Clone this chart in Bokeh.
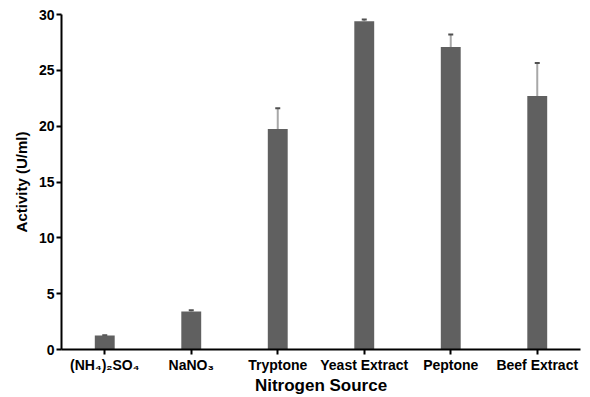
from bokeh.plotting import figure
from bokeh.models import ColumnDataSource, Whisker, TeeHead, FactorRange
from bokeh.embed import file_html
from bokeh.resources import INLINE

categories = ["(NH₄)₂SO₄", "NaNO₃", "Tryptone", "Yeast Extract", "Peptone", "Beef Extract"]
activity = [1.25, 3.4, 19.75, 29.4, 27.1, 22.7]
error = [0.03, 0.12, 1.85, 0.15, 1.1, 2.95]
y_ticks = [0, 5, 10, 15, 20, 25, 30]

upper = [a + e for a, e in zip(activity, error)]
src = ColumnDataSource(dict(cat=categories, act=activity, up=upper))

FONT = "Liberation Sans"

p = figure(x_range=FactorRange(*categories, range_padding=0), y_range=(0, 30),
           width=590, height=397, output_backend="svg", toolbar_location=None,
           min_border_left=61, min_border_right=10, min_border_top=14, min_border_bottom=45)

p.vbar(x="cat", top="act", width=0.23, source=src, color="#606060", line_color=None)

w = Whisker(source=src, base="cat", lower="act", upper="up",
            line_color="#a8a8a8", line_width=2,
            lower_head=None,
            upper_head=TeeHead(size=5, line_color="#505050", line_width=2))
p.add_layout(w)

p.outline_line_color = None
p.xgrid.grid_line_color = None
p.ygrid.grid_line_color = None

for ax in (p.xaxis[0], p.yaxis[0]):
    ax.axis_line_color = "black"
    ax.axis_line_width = 2
    ax.major_tick_line_color = "black"
    ax.major_tick_line_width = 2
    ax.major_tick_in = 0
    ax.major_tick_out = 5
    ax.minor_tick_line_color = None
    ax.major_label_text_font = FONT
    ax.major_label_text_font_style = "bold"
    ax.major_label_text_color = "black"
    ax.axis_label_text_font = FONT
    ax.axis_label_text_font_style = "bold"
    ax.axis_label_text_color = "black"

p.yaxis.ticker = y_ticks
p.yaxis.major_label_text_font_size = "14px"
p.yaxis.major_label_standoff = 2
p.yaxis.axis_label = "Activity (U/ml)"
p.yaxis.axis_label_text_font_size = "15px"
p.yaxis.axis_label_standoff = 6

p.xaxis.major_label_text_font_size = "14px"
p.xaxis.major_label_standoff = 2
p.xaxis.axis_label = "Nitrogen Source"
p.xaxis.axis_label_text_font_size = "17px"
p.xaxis.axis_label_standoff = 0

open("out.html", "w").write(file_html(p, INLINE))
